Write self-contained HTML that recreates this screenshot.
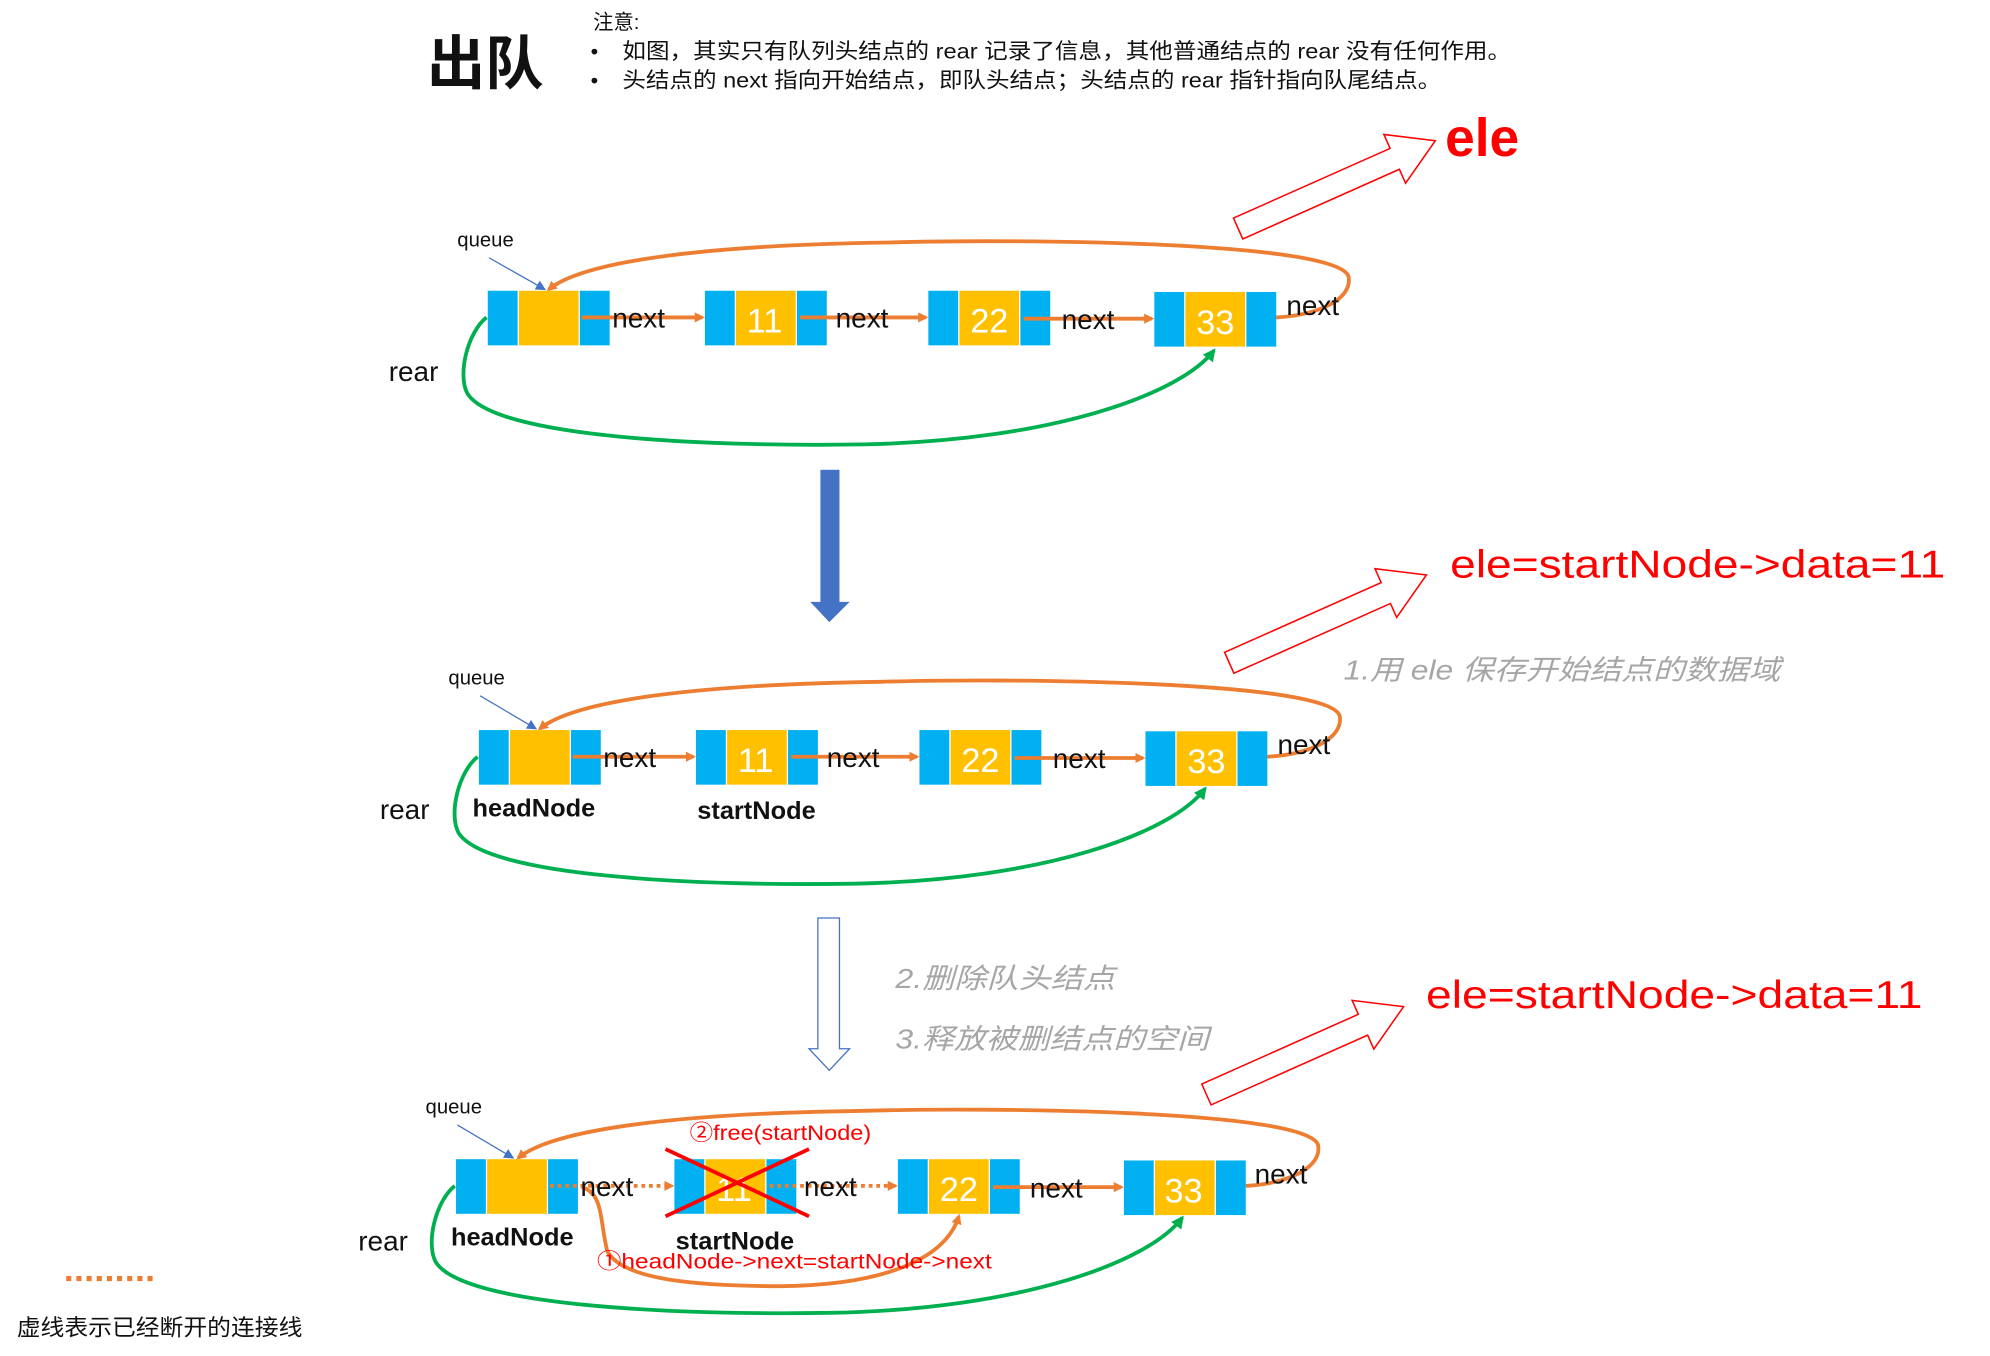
<!DOCTYPE html>
<html><head><meta charset="utf-8"><style>
html,body{margin:0;padding:0;background:#fff;width:1990px;height:1356px;overflow:hidden}
svg{display:block}
text{font-family:"Liberation Sans","Noto Sans CJK SC",sans-serif}
.nx{font-size:22px;fill:#111}
.num{font-size:27px;fill:#fff}
.lbl{font-size:20px;font-weight:bold;fill:#111}
</style></head><body>
<svg width="1990" height="1356" viewBox="0 0 1567 1068" xmlns="http://www.w3.org/2000/svg">
<defs>
<marker id="ao" markerWidth="8" markerHeight="8" refX="6" refY="4" orient="auto" markerUnits="userSpaceOnUse"><path d="M0,0 L8,4 L0,8 z" fill="#ED7D31"/></marker>
<marker id="ag" markerWidth="10" markerHeight="10" refX="8" refY="5" orient="auto" markerUnits="userSpaceOnUse"><path d="M0,0 L10,5 L0,10 z" fill="#00B050"/></marker>
<marker id="ab" markerWidth="8" markerHeight="8" refX="7" refY="4" orient="auto" markerUnits="userSpaceOnUse"><path d="M0,0 L8,4 L0,8 z" fill="#4472C4"/></marker>
<g id="node"><rect x="0" y="0" width="24" height="43" fill="#00B0F0"/><rect x="24" y="0" width="48" height="43" fill="#FFC000"/><rect x="72" y="0" width="24" height="43" fill="#00B0F0"/><line x1="24" y1="0" x2="24" y2="43" stroke="#fff" stroke-width="1"/><line x1="72" y1="0" x2="72" y2="43" stroke="#fff" stroke-width="1"/></g>
<polygon id="harr" points="0,-9 135,-9 135,-21 170,0 135,21 135,9 0,9" fill="#fff" stroke="#FF0000" stroke-width="1.2"/>
</defs>

<text x="336" y="66" font-size="46" font-weight="bold" fill="#111">出队</text>
<text x="467" y="23" font-size="16" fill="#111">注意:</text>
<text x="465" y="46" font-size="17" fill="#111">•</text>
<text x="490" y="46" font-size="17" fill="#111" textLength="700" lengthAdjust="spacingAndGlyphs">如图，其实只有队列头结点的 rear 记录了信息，其他普通结点的 rear 没有任何作用。</text>
<text x="465" y="69" font-size="17" fill="#111">•</text>
<text x="490" y="69" font-size="17" fill="#111" textLength="645" lengthAdjust="spacingAndGlyphs">头结点的 next 指向开始结点，即队头结点；头结点的 rear 指针指向队尾结点。</text>

<!-- ROW 1 -->
<use href="#harr" transform="translate(975,180) rotate(-24)"/>
<text x="1138" y="123" font-size="42" font-weight="bold" fill="#FF0000">ele</text>
<text x="360" y="194" font-size="16" fill="#111">queue</text>
<line x1="385" y1="203" x2="429" y2="228" stroke="#4472C4" stroke-width="1" marker-end="url(#ab)"/>
<text x="306" y="300" font-size="22" fill="#111">rear</text>
<path d="M1005,250 C1040,248 1065,235 1062,218 C1055,190 800,188 700,191 C560,193 460,205 432,228" fill="none" stroke="#ED7D31" stroke-width="3" marker-end="url(#ao)"/>
<path d="M383,250 C368,262 360,295 368,310 C390,345 560,352 680,350 C830,347 930,310 956,276" fill="none" stroke="#00B050" stroke-width="3" marker-end="url(#ag)"/>
<use href="#node" x="384" y="229"/><use href="#node" x="555" y="229"/><use href="#node" x="731" y="229"/><use href="#node" x="909" y="230"/>
<line x1="458" y1="250" x2="553" y2="250" stroke="#ED7D31" stroke-width="3" marker-end="url(#ao)"/>
<line x1="630" y1="250" x2="729" y2="250" stroke="#ED7D31" stroke-width="3" marker-end="url(#ao)"/>
<line x1="806" y1="251" x2="907" y2="251" stroke="#ED7D31" stroke-width="3" marker-end="url(#ao)"/>
<text x="482" y="258" class="nx">next</text><text x="658" y="258" class="nx">next</text><text x="836" y="259" class="nx">next</text><text x="1013" y="248" class="nx">next</text>
<text x="588" y="262" class="num">11</text><text x="764" y="262" class="num">22</text><text x="942" y="263" class="num">33</text>

<!-- down arrow -->
<rect x="646" y="370" width="15" height="105" fill="#4472C4"/>
<polygon points="638,474 669,474 653,490" fill="#4472C4"/>

<!-- ROW 2 -->
<use href="#harr" transform="translate(968,522) rotate(-24)"/>
<text x="1142" y="455" font-size="31" fill="#FF0000" textLength="390" lengthAdjust="spacingAndGlyphs">ele=startNode-&gt;data=11</text>
<text x="1058" y="535" font-size="22" font-style="italic" fill="#A6A6A6" textLength="344" lengthAdjust="spacingAndGlyphs">1.用 ele 保存开始结点的数据域</text>
<text x="353" y="539" font-size="16" fill="#111">queue</text>
<line x1="378" y1="548" x2="422" y2="574" stroke="#4472C4" stroke-width="1" marker-end="url(#ab)"/>
<text x="299" y="645" font-size="22" fill="#111">rear</text>
<path d="M998,596 C1033,594 1058,581 1055,564 C1048,536 793,534 693,537 C553,539 453,551 425,574" fill="none" stroke="#ED7D31" stroke-width="3" marker-end="url(#ao)"/>
<path d="M376,596 C361,608 353,641 361,656 C383,691 553,698 673,696 C823,693 923,656 949,621" fill="none" stroke="#00B050" stroke-width="3" marker-end="url(#ag)"/>
<use href="#node" x="377" y="575"/><use href="#node" x="548" y="575"/><use href="#node" x="724" y="575"/><use href="#node" x="902" y="576"/>
<line x1="451" y1="596" x2="546" y2="596" stroke="#ED7D31" stroke-width="3" marker-end="url(#ao)"/>
<line x1="623" y1="596" x2="722" y2="596" stroke="#ED7D31" stroke-width="3" marker-end="url(#ao)"/>
<line x1="799" y1="597" x2="900" y2="597" stroke="#ED7D31" stroke-width="3" marker-end="url(#ao)"/>
<text x="475" y="604" class="nx">next</text><text x="651" y="604" class="nx">next</text><text x="829" y="605" class="nx">next</text><text x="1006" y="594" class="nx">next</text>
<text x="581" y="608" class="num">11</text><text x="757" y="608" class="num">22</text><text x="935" y="609" class="num">33</text>
<text x="372" y="643" class="lbl">headNode</text><text x="549" y="645" class="lbl">startNode</text>

<!-- hollow down arrow -->
<polygon points="644,723 661,723 661,826 669,826 653,843 637,826 644,826" fill="#fff" stroke="#4472C4" stroke-width="1"/>
<text x="705" y="778" font-size="22" font-style="italic" fill="#A6A6A6" textLength="173" lengthAdjust="spacingAndGlyphs">2.删除队头结点</text>
<text x="705" y="826" font-size="22" font-style="italic" fill="#A6A6A6" textLength="247" lengthAdjust="spacingAndGlyphs">3.释放被删结点的空间</text>

<!-- ROW 3 -->
<use href="#harr" transform="translate(950,862) rotate(-24)"/>
<text x="1123" y="794" font-size="31" fill="#FF0000" textLength="391" lengthAdjust="spacingAndGlyphs">ele=startNode-&gt;data=11</text>
<text x="335" y="877" font-size="16" fill="#111">queue</text>
<line x1="360" y1="886" x2="404" y2="912" stroke="#4472C4" stroke-width="1" marker-end="url(#ab)"/>
<text x="282" y="985" font-size="22" fill="#111">rear</text>
<path d="M981,934 C1016,932 1041,919 1038,902 C1031,874 776,872 676,875 C536,877 436,889 408,912" fill="none" stroke="#ED7D31" stroke-width="3" marker-end="url(#ao)"/>
<path d="M358,934 C343,946 335,979 343,994 C365,1029 535,1036 655,1034 C805,1031 905,994 931,959" fill="none" stroke="#00B050" stroke-width="3" marker-end="url(#ag)"/>
<use href="#node" x="359" y="913"/><use href="#node" x="531" y="913"/><use href="#node" x="707" y="913"/><use href="#node" x="885" y="914"/>
<line x1="433" y1="934" x2="529" y2="934" stroke="#ED7D31" stroke-width="3" stroke-dasharray="3,3" marker-end="url(#ao)"/>
<line x1="606" y1="934" x2="705" y2="934" stroke="#ED7D31" stroke-width="3" stroke-dasharray="3,3" marker-end="url(#ao)"/>
<line x1="782" y1="935" x2="883" y2="935" stroke="#ED7D31" stroke-width="3" marker-end="url(#ao)"/>
<path d="M458,935 C475,940 472,960 478,985 C490,1010 560,1013 615,1013 C700,1012 745,990 755,958" fill="none" stroke="#ED7D31" stroke-width="3" marker-end="url(#ao)"/>
<text x="457" y="942" class="nx">next</text><text x="633" y="942" class="nx">next</text><text x="811" y="943" class="nx">next</text><text x="988" y="932" class="nx">next</text>
<text x="564" y="946" class="num">11</text><text x="740" y="946" class="num">22</text><text x="917" y="947" class="num">33</text>
<line x1="524" y1="905" x2="637" y2="958" stroke="#FF0000" stroke-width="3"/>
<line x1="524" y1="958" x2="637" y2="905" stroke="#FF0000" stroke-width="3"/>
<text x="543" y="898" font-size="17" fill="#FF0000" textLength="143" lengthAdjust="spacingAndGlyphs">②free(startNode)</text>
<text x="470" y="999" font-size="17" fill="#FF0000" textLength="311" lengthAdjust="spacingAndGlyphs">①headNode-&gt;next=startNode-&gt;next</text>
<text x="355" y="981" class="lbl">headNode</text><text x="532" y="984" class="lbl">startNode</text>

<!-- legend -->
<line x1="52" y1="1007" x2="124" y2="1007" stroke="#ED7D31" stroke-width="4" stroke-dasharray="4,4"/>
<text x="13" y="1052" font-size="18" fill="#111" textLength="225" lengthAdjust="spacingAndGlyphs">虚线表示已经断开的连接线</text>
</svg>
</body></html>
